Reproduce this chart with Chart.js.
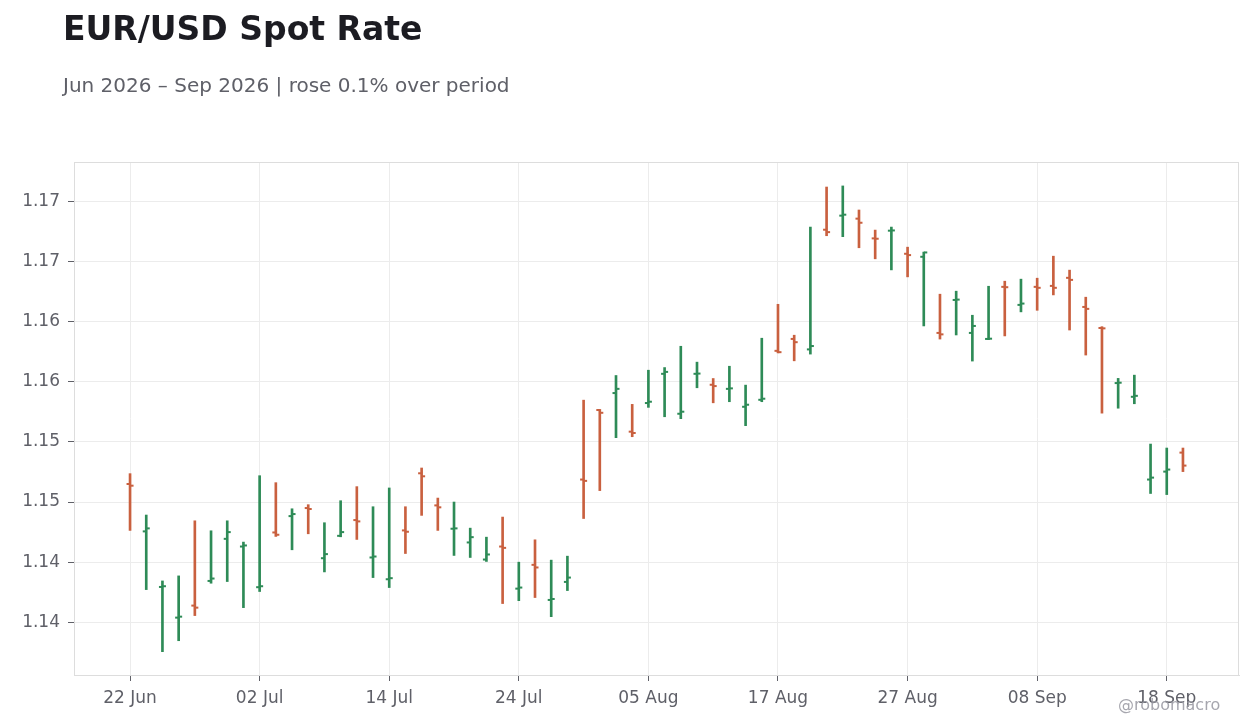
<!DOCTYPE html>
<html>
<head>
<meta charset="utf-8">
<title>EUR/USD Spot Rate</title>
<script src="https://cdn.jsdelivr.net/npm/chart.js@4.4.1/dist/chart.umd.min.js"></script>
<style>
  html, body { margin: 0; padding: 0; background: #ffffff; }
  #wrap { position: relative; width: 1260px; height: 728px; }
</style>
</head>
<body>
<div id="wrap"><canvas id="ohlcChart" width="1260" height="728"></canvas></div>
<script>
// trading days, 22 Jun - 21 Sep 2026
const dates = [
  '22 Jun', '23 Jun', '24 Jun', '25 Jun', '26 Jun', '29 Jun', '30 Jun', '01 Jul',
  '02 Jul', '03 Jul', '06 Jul', '07 Jul', '08 Jul', '09 Jul', '10 Jul', '13 Jul',
  '14 Jul', '15 Jul', '16 Jul', '17 Jul', '20 Jul', '21 Jul', '22 Jul', '23 Jul',
  '24 Jul', '27 Jul', '28 Jul', '29 Jul', '30 Jul', '31 Jul', '03 Aug', '04 Aug',
  '05 Aug', '06 Aug', '07 Aug', '10 Aug', '11 Aug', '12 Aug', '13 Aug', '14 Aug',
  '17 Aug', '18 Aug', '19 Aug', '20 Aug', '21 Aug', '24 Aug', '25 Aug', '26 Aug',
  '27 Aug', '28 Aug', '31 Aug', '01 Sep', '02 Sep', '03 Sep', '04 Sep', '07 Sep',
  '08 Sep', '09 Sep', '10 Sep', '11 Sep', '14 Sep', '15 Sep', '16 Sep', '17 Sep',
  '18 Sep', '21 Sep'
];

const opens = [
  1.14650, 1.14256, 1.13794, 1.13539, 1.13639, 1.13844, 1.14194, 1.14130,
  1.13792, 1.14247, 1.14383, 1.14450, 1.14033, 1.14219, 1.14350, 1.14039,
  1.13858, 1.14264, 1.14739, 1.14472, 1.14278, 1.14164, 1.14022, 1.14130,
  1.13780, 1.13978, 1.13686, 1.13836, 1.14687, 1.15265, 1.15406, 1.15085,
  1.15323, 1.15566, 1.15234, 1.15566, 1.15475, 1.15441, 1.15292, 1.15350,
  1.15757, 1.15856, 1.15769, 1.16764, 1.16881, 1.16856, 1.16692, 1.16756,
  1.16564, 1.16539, 1.15906, 1.16180, 1.15906, 1.15856, 1.16289, 1.16139,
  1.16289, 1.16297, 1.16364, 1.16122, 1.15947, 1.15489, 1.15375, 1.14687,
  1.14753, 1.14911
];

const highs = [
  1.14736, 1.14392, 1.13844, 1.13886, 1.14344, 1.14261, 1.14344, 1.14167,
  1.14719, 1.14661, 1.14444, 1.14478, 1.14328, 1.14511, 1.14628, 1.14461,
  1.14617, 1.14461, 1.14783, 1.14533, 1.14500, 1.14283, 1.14208, 1.14375,
  1.14000, 1.14186, 1.14017, 1.14050, 1.15347, 1.15270, 1.15552, 1.15312,
  1.15596, 1.15618, 1.15795, 1.15663, 1.15527, 1.15629, 1.15472, 1.15862,
  1.16144, 1.15887, 1.16786, 1.17119, 1.17128, 1.16928, 1.16761, 1.16786,
  1.16619, 1.16578, 1.16228, 1.16253, 1.16053, 1.16294, 1.16336, 1.16353,
  1.16361, 1.16544, 1.16428, 1.16203, 1.15958, 1.15528, 1.15555, 1.14982,
  1.14949, 1.14949
];

const lows = [
  1.14264, 1.13772, 1.13256, 1.13347, 1.13556, 1.13825, 1.13839, 1.13622,
  1.13756, 1.14214, 1.14103, 1.14236, 1.13919, 1.14211, 1.14189, 1.13872,
  1.13789, 1.14072, 1.14389, 1.14264, 1.14056, 1.14039, 1.14006, 1.13656,
  1.13680, 1.13706, 1.13547, 1.13764, 1.14363, 1.14595, 1.15035, 1.15043,
  1.15287, 1.15209, 1.15193, 1.15450, 1.15325, 1.15334, 1.15135, 1.15334,
  1.15740, 1.15674, 1.15730, 1.16714, 1.16706, 1.16614, 1.16522, 1.16430,
  1.16372, 1.15964, 1.15855, 1.15889, 1.15672, 1.15850, 1.15881, 1.16081,
  1.16094, 1.16222, 1.15930, 1.15722, 1.15239, 1.15280, 1.15317, 1.14571,
  1.14562, 1.14753
];

const closes = [
  1.14636, 1.14281, 1.13800, 1.13547, 1.13622, 1.13864, 1.14250, 1.14139,
  1.13800, 1.14228, 1.14400, 1.14442, 1.14067, 1.14250, 1.14339, 1.14047,
  1.13867, 1.14253, 1.14714, 1.14456, 1.14281, 1.14208, 1.14064, 1.14119,
  1.13789, 1.13956, 1.13694, 1.13872, 1.14676, 1.15242, 1.15441, 1.15074,
  1.15334, 1.15582, 1.15251, 1.15568, 1.15464, 1.15445, 1.15309, 1.15359,
  1.15746, 1.15829, 1.15797, 1.16744, 1.16889, 1.16822, 1.16689, 1.16758,
  1.16553, 1.16575, 1.15894, 1.16183, 1.15964, 1.15858, 1.16286, 1.16150,
  1.16281, 1.16281, 1.16347, 1.16106, 1.15944, 1.15492, 1.15383, 1.14703,
  1.14770, 1.14803
];

const xTickIndex = [0, 8, 16, 24, 32, 40, 48, 56, 64];
const yTickValues = [1.135, 1.140, 1.145, 1.150, 1.155, 1.160, 1.165, 1.170];
const yTickLabels = ['1.14', '1.14', '1.15', '1.15', '1.16', '1.16', '1.17', '1.17'];

const UP = '#2e8b57';
const DOWN = '#c9603f';
const TEXT = '#5f6068';
const GRID = '#ececec';
const FRAME = '#dddddd';

const barColor = (i) => (closes[i] >= opens[i] ? UP : DOWN);

Chart.defaults.font.family = "'DejaVu Sans', sans-serif";
Chart.defaults.color = TEXT;

// open / close side ticks
const ohlcTicks = {
  id: 'ohlcTicks',
  afterDatasetsDraw(chart) {
    const { ctx, scales: { x, y } } = chart;
    ctx.save();
    opens.forEach((o, i) => {
      const cx = x.getPixelForValue(i);
      ctx.fillStyle = barColor(i);
      ctx.fillRect(cx - 3.5, y.getPixelForValue(o) - 1, 3.5, 2);
      ctx.fillRect(cx, y.getPixelForValue(closes[i]) - 1, 3.5, 2);
    });
    ctx.restore();
  },
};

// frame round the plot area
const plotFrame = {
  id: 'plotFrame',
  beforeDatasetsDraw(chart) {
    const { ctx, chartArea: { left, top, right, bottom } } = chart;
    ctx.save();
    ctx.strokeStyle = FRAME;
    ctx.lineWidth = 1;
    ctx.strokeRect(left + 0.5, top + 0.5, right - left - 1, bottom - top);
    ctx.restore();
  },
};

// title, subtitle and handle
const headerText = {
  id: 'headerText',
  afterDraw(chart) {
    const { ctx } = chart;
    ctx.save();
    ctx.textBaseline = 'alphabetic';
    ctx.textAlign = 'left';
    ctx.fillStyle = '#1c1c22';
    ctx.font = "bold 33px 'DejaVu Sans'";
    ctx.fillText('EUR/USD Spot Rate', 63, 40);
    ctx.fillStyle = TEXT;
    ctx.font = "20px 'DejaVu Sans'";
    ctx.fillText('Jun 2026 \u2013 Sep 2026 | rose 0.1% over period', 63, 92);
    ctx.fillStyle = 'rgba(150, 150, 160, 0.85)';
    ctx.font = "16px 'DejaVu Sans'";
    ctx.fillText('@robomacro', 1118, 710);
    ctx.restore();
  },
};

const config = {
  type: 'bar',
  data: {
    datasets: [
      {
        label: 'EUR/USD',
        data: dates.map((d, i) => ({ x: i, y: [lows[i], highs[i]] })),
        backgroundColor: dates.map((d, i) => barColor(i)),
        borderWidth: 0,
        barThickness: 2,
      },
    ],
  },
  options: {
    responsive: false,
    animation: false,
    devicePixelRatio: 1,
    layout: { padding: { left: 0, right: 21, top: 162, bottom: 0 } },
    plugins: {
      legend: { display: false },
      title: { display: false },
      tooltip: { enabled: false },
    },
    scales: {
      x: {
        type: 'linear',
        min: -3.46,
        max: 68.46,
        offset: false,
        afterFit(scale) { scale.height = 53; },
        afterBuildTicks(axis) { axis.ticks = xTickIndex.map((v) => ({ value: v })); },
        grid: { color: GRID, offset: false, tickLength: 6, tickColor: TEXT },
        border: { display: true, color: FRAME },
        ticks: {
          padding: 7,
          maxRotation: 0,
          font: { size: 17 },
          color: TEXT,
          callback: (v) => dates[v],
        },
      },
      y: {
        type: 'linear',
        min: 1.13062,
        max: 1.17327,
        afterFit(scale) { scale.width = 74; },
        afterBuildTicks(axis) { axis.ticks = yTickValues.map((v) => ({ value: v })); },
        grid: { color: GRID, tickLength: 6, tickColor: TEXT },
        border: { display: true, color: FRAME },
        ticks: {
          padding: 8,
          font: { size: 17 },
          color: TEXT,
          callback: (v, i) => yTickLabels[i],
        },
      },
    },
  },
  plugins: [plotFrame, ohlcTicks, headerText],
};

const ohlcChart = new Chart(document.getElementById('ohlcChart'), config);
</script>
</body>
</html>
